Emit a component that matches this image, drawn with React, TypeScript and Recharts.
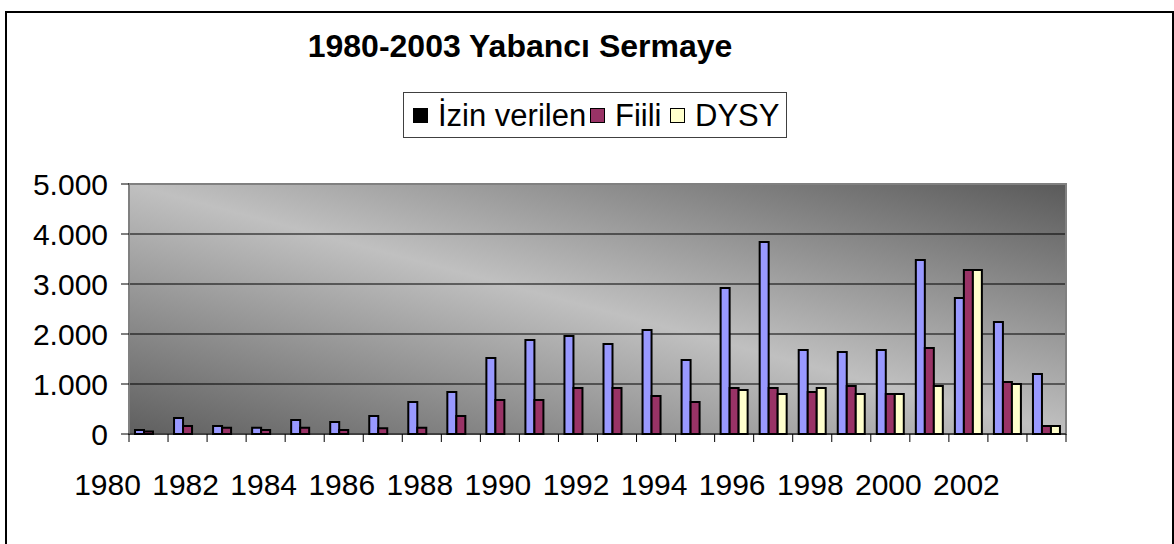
import {
  BarChart,
  Bar,
  XAxis,
  YAxis,
  CartesianGrid,
  Legend,
  ReferenceArea,
} from "recharts";

const FONT = '"Liberation Sans", Arial, sans-serif';

// 1980 - 2003
const years = [
  "1980", "1981", "1982", "1983", "1984", "1985", "1986", "1987",
  "1988", "1989", "1990", "1991", "1992", "1993", "1994", "1995",
  "1996", "1997", "1998", "1999", "2000", "2001", "2002", "2003",
];

// values (million $)
const izinVerilen = [
  80, 320, 160, 127, 280, 240, 360, 640, 840, 1520, 1880, 1960,
  1800, 2080, 1480, 2920, 3840, 1680, 1640, 1680, 3480, 2720, 2240, 1200,
];
const fiili = [
  50, 160, 127, 80, 127, 80, 113, 127, 360, 680, 680, 920,
  920, 760, 640, 920, 920, 840, 960, 800, 1720, 3280, 1040, 160,
];
const dysy = [
  null, null, null, null, null, null, null, null, null, null, null, null,
  null, null, null, 880, 800, 920, 800, 800, 960, 3280, 1000, 160,
];

const yTicks = [0, 1000, 2000, 3000, 4000, 5000];

const seriesNames = ["İzin verilen", "Fiili", "DYSY"];
const barColors = ["#9999FF", "#993366", "#FFFFCC"];
const legendSwatch = ["#000000", "#993366", "#FFFFCC"];

const data = years.map((year, i) => ({
  year,
  izin: izinVerilen[i],
  fiili: fiili[i],
  dysy: dysy[i],
}));

const W = 1174;
const H = 544;
const MARGIN = { top: 184, right: 108, bottom: 0, left: 0 };
const Y_AXIS_W = 129;
const BAND = (W - Y_AXIS_W - MARGIN.right) / years.length;

const fmt = (v: number) => String(v).replace(/\B(?=(\d{3})+(?!\d))/g, ".");

// excel style: tick marks between categories, label every second year, shifted left
const XTick = (props: any) => {
  const { x, y, index, payload } = props;
  const left = x - BAND / 2;
  const right = x + BAND / 2;
  return (
    <g>
      <line x1={left} x2={left} y1={y - 8} y2={y} stroke="#000" />
      {index === years.length - 1 && (
        <line x1={right} x2={right} y1={y - 8} y2={y} stroke="#000" />
      )}
      {index % 2 === 0 && (
        <text
          x={x - 41}
          y={y}
          dy={53}
          textAnchor="middle"
          fontSize={30}
          fontFamily={FONT}
          fill="#000"
        >
          {payload.value}
        </text>
      )}
    </g>
  );
};

const legendX = [9, 186, 266];

const LegendBox = (props: any) => {
  const { payload = [] } = props;
  const items = [...payload].sort(
    (a: any, b: any) => seriesNames.indexOf(a.value) - seriesNames.indexOf(b.value)
  );
  return (
    <div
      style={{
        position: "relative",
        width: 384,
        height: 46,
        border: "1px solid #404040",
        background: "#fff",
        boxSizing: "border-box",
        fontFamily: FONT,
        fontSize: 31,
        color: "#000",
      }}
    >
      {items.map((p: any) => {
        const i = seriesNames.indexOf(p.value);
        return (
          <div
            key={p.value}
            style={{
              position: "absolute",
              left: legendX[i],
              top: 0,
              height: 44,
              display: "flex",
              alignItems: "center",
              lineHeight: 1,
              whiteSpace: "nowrap",
            }}
          >
            <span
              style={{
                display: "inline-block",
                width: 13,
                height: 13,
                background: legendSwatch[i],
                border: "1.5px solid #000",
                marginRight: 10,
              }}
            />
            <span>{p.value}</span>
          </div>
        );
      })}
    </div>
  );
};

export default function App() {
  return (
    <div style={{ position: "absolute", left: 0, top: 0, width: W, height: H, background: "#fff" }}>
      <div
        style={{
          position: "absolute",
          left: 5,
          top: 11,
          width: 1169,
          height: 540,
          border: "2px solid #000",
          boxSizing: "border-box",
          pointerEvents: "none",
        }}
      />
      <BarChart
        width={W}
        height={H}
        data={data}
        margin={MARGIN}
        barGap={0}
        barSize={9}
      >
        <defs>
          <linearGradient id="plotBg" x1="0" y1="1" x2="1" y2="0">
            <stop offset="0%" stopColor="#5f5f5f" />
            <stop offset="50%" stopColor="#c0c0c0" />
            <stop offset="100%" stopColor="#5a5a5a" />
          </linearGradient>
        </defs>
        <text
          x={520}
          y={57}
          textAnchor="middle"
          fontSize={32}
          fontWeight="bold"
          fontFamily={FONT}
          fill="#000"
        >
          1980-2003 Yabancı Sermaye
        </text>
        <CartesianGrid
          vertical={false}
          stroke="#000"
          fill="url(#plotBg)"
          fillOpacity={1}
        />
        <ReferenceArea y1={0} y2={5000} fill="none" stroke="#808080" strokeWidth={2} />
        <XAxis
          dataKey="year"
          height={110}
          interval={0}
          tickSize={8}
          tickMargin={0}
          tickLine={false}
          axisLine={{ stroke: "#000" }}
          tick={<XTick />}
        />
        <YAxis
          width={Y_AXIS_W}
          domain={[0, 5000]}
          ticks={yTicks}
          tickSize={8}
          tickMargin={13}
          axisLine={{ stroke: "#808080" }}
          tickLine={{ stroke: "#000" }}
          tick={{ fill: "#000", fontSize: 30, fontFamily: FONT }}
          tickFormatter={fmt}
        />
        <Legend
          layout="horizontal"
          verticalAlign="middle"
          align="center"
          wrapperStyle={{ top: 92, left: 403, width: 384, height: 46 }}
          content={<LegendBox />}
        />
        <Bar dataKey="izin" name={seriesNames[0]} fill={barColors[0]} stroke="#000" strokeWidth={2} isAnimationActive={false} />
        <Bar dataKey="fiili" name={seriesNames[1]} fill={barColors[1]} stroke="#000" strokeWidth={2} isAnimationActive={false} />
        <Bar dataKey="dysy" name={seriesNames[2]} fill={barColors[2]} stroke="#000" strokeWidth={2} isAnimationActive={false} />
      </BarChart>
    </div>
  );
}
